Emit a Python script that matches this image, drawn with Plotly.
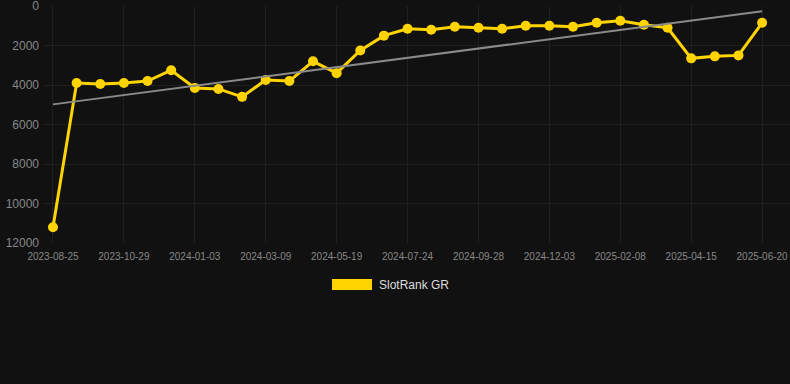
import numpy as np
import plotly.graph_objects as go

dates = [
    "2023-08-25", "2023-09-16", "2023-10-07", "2023-10-29", "2023-11-20", "2023-12-12",
    "2024-01-03", "2024-01-25", "2024-02-16", "2024-03-09", "2024-04-01", "2024-04-25",
    "2024-05-19", "2024-06-10", "2024-07-02", "2024-07-24", "2024-08-15", "2024-09-06",
    "2024-09-28", "2024-10-20", "2024-11-11", "2024-12-03", "2024-12-25", "2025-01-17",
    "2025-02-08", "2025-03-02", "2025-03-24", "2025-04-15", "2025-05-07", "2025-05-29",
    "2025-06-20",
]
rank_gr = [
    11200, 3900, 3950, 3900, 3800, 3250,
    4150, 4200, 4600, 3750, 3800, 2800,
    3400, 2250, 1500, 1150, 1200, 1050,
    1100, 1150, 1000, 1000, 1050, 850,
    750, 950, 1100, 2650, 2550, 2500,
    850,
]
y_ticks = [0, 2000, 4000, 6000, 8000, 10000, 12000]
series_name = "SlotRank GR"

idx = np.arange(len(dates))
slope, intercept = np.polyfit(idx, np.array(rank_gr, dtype=float), 1)
trend = slope * idx + intercept

tick_idx = list(idx[::3])
tick_txt = [dates[i] for i in tick_idx]

fig = go.Figure()
fig.add_trace(go.Scatter(
    x=idx, y=rank_gr, mode="lines+markers", name=series_name,
    line=dict(color="#FFD400", width=3),
    marker=dict(color="#FFD400", size=10),
    showlegend=False,
))
fig.add_trace(go.Scatter(
    x=[idx[0], idx[-1]], y=[trend[0], trend[-1]], mode="lines",
    line=dict(color="#8a8a8a", width=2), showlegend=False, hoverinfo="skip",
))

grid = "#1f1f1f"
fig.update_layout(
    width=790, height=384,
    margin=dict(l=44, r=0, t=6, b=141),
    paper_bgcolor="#111111", plot_bgcolor="#111111",
    font=dict(family="Liberation Sans, Arial, sans-serif", color="#888888"),
    xaxis=dict(
        range=[-0.38, 31.18], tickmode="array", tickvals=tick_idx, ticktext=tick_txt,
        showgrid=True, gridcolor=grid, gridwidth=1, zeroline=False, showline=False,
        tickfont=dict(size=10, color="#888888"), ticks="", ticklabelstandoff=6,
        ticklabeloverflow="allow",
    ),
    yaxis=dict(
        range=[12000, 0], tickmode="array", tickvals=y_ticks,
        ticktext=[str(v) for v in y_ticks],
        showgrid=True, gridcolor=grid, gridwidth=1, zeroline=False, showline=False,
        tickfont=dict(size=12, color="#888888"), ticks="", ticklabelstandoff=4,
        ticklabeloverflow="allow",
    ),
    showlegend=False,
)

# legend drawn manually
fig.add_shape(type="rect", xref="paper", yref="paper",
              x0=(332 - 44) / 746, x1=(372 - 44) / 746,
              y0=(243 - 290) / 237, y1=(243 - 279) / 237,
              fillcolor="#FFD400", line=dict(width=0))
fig.add_annotation(xref="paper", yref="paper", x=(377 - 44) / 746, y=(243 - 284.5) / 237,
                   text=series_name, showarrow=False, xanchor="left", yanchor="middle",
                   font=dict(size=12, color="#dddddd"))

fig.write_html(
    "out.html",
    config={"displayModeBar": False},
    post_script="document.body.style.margin='0';document.body.style.background='#111111';",
)
